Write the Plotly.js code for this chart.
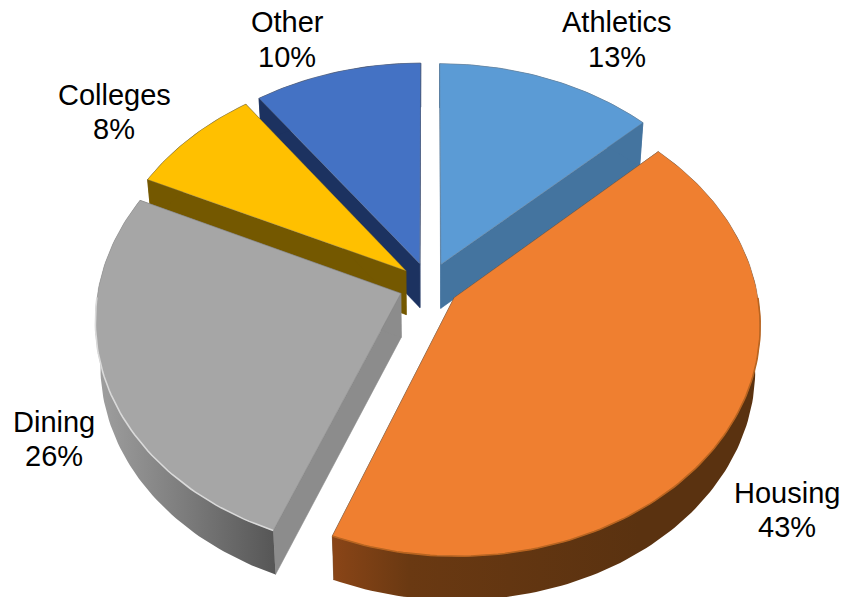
<!DOCTYPE html>
<html>
<head>
<meta charset="utf-8">
<script src="https://cdn.plot.ly/plotly-3.0.1.min.js"></script>
<style>html,body{margin:0;padding:0;background:#fff}#chart{width:842px;height:597px}</style>
</head>
<body>
<div id="chart"></div>
<script>
// Share of revenue by source, in percent, clockwise from twelve o'clock.
const categories = ['Athletics', 'Housing', 'Dining', 'Colleges', 'Other'];
const shares = [13, 43, 26, 8, 10];

const topColors = ['#5B9BD5', '#EF7F30', '#A6A6A6', '#FFC000', '#4472C4'];
const wallColors = ['#44749F', '#6A3A14', '#8C8C8C', '#745800', '#1C3260'];
const outerWallScales = [
  null,
  [[0, '#8A4517'], [0.25, '#6A3912'], [1, '#5A3210']],
  [[0, '#A0A0A0'], [0.5, '#7C7C7C'], [1, '#565656']],
  null,
  null
];
const outerWallStops = [null, 640, 275, null, null];
const rimColors = [null, '#B9641F', '#DADADA', null, null];

// Label placement, in the same pixel-sized units as the axes below.
const labelCentres = [[617, 22, 57], [787, 493, 527], [54, 422, 456], [114, 95, 129], [287, 22, 57]];

// Tilted-disc projection of the pie.
const view = { cx: 429, cy: 285, rx: 302, ry: 227, perspective: 0.11, depth: 44, taper: 0.985, pull: 0.1 };

function project(X, Y, lower) {
  const w = 1 + view.perspective * Y;
  let x = view.cx + view.rx * X / w;
  let y = view.cy - view.ry * Y / w;
  if (lower) {
    x = view.cx + (x - view.cx) * view.taper;
    y += view.depth;
  }
  return [x, y];
}

function rad(turnPct) { return turnPct / 100 * 2 * Math.PI; }

function apexPoint(mid, lower) {
  return project(view.pull * Math.sin(mid), view.pull * Math.cos(mid), lower);
}
function rimPoint(mid, a, lower) {
  return project(view.pull * Math.sin(mid) + Math.sin(a), view.pull * Math.cos(mid) + Math.cos(a), lower);
}
function arc(mid, a0, a1, lower) {
  const n = Math.max(2, Math.ceil(Math.abs(a1 - a0) / 0.02));
  const pts = [];
  for (let i = 0; i <= n; i++) pts.push(rimPoint(mid, a0 + (a1 - a0) * i / n, lower));
  return pts;
}
function poly(pts, color, extra) {
  const closed = pts.concat([pts[0]]);
  return Object.assign({
    type: 'scatter', mode: 'lines', x: closed.map(p => p[0]), y: closed.map(p => p[1]),
    fill: 'toself', fillcolor: color, line: { width: 0.6, color: color }, hoverinfo: 'skip', showlegend: false
  }, extra || {});
}

const traces = [];
const drawOrder = [0, 4, 3, 2, 1];
const starts = [];
shares.reduce((sum, s, i) => { starts[i] = sum; return sum + s; }, 0);

drawOrder.forEach(i => {
  const a0 = rad(starts[i]);
  const a1 = rad(starts[i] + shares[i]);
  const mid = (a0 + a1) / 2;

  // Side walls first, so the slice's own top hides whatever faces away.
  [a0, a1].forEach(a => {
    traces.push(poly([apexPoint(mid, false), rimPoint(mid, a, false), rimPoint(mid, a, true), apexPoint(mid, true)], wallColors[i]));
  });
  const wall = arc(mid, a0, a1, false).concat(arc(mid, a1, a0, true));
  if (outerWallScales[i]) {
    traces.push(poly(wall, wallColors[i], {
      fillgradient: {
        type: 'horizontal',
        colorscale: outerWallScales[i],
        start: Math.min(...wall.map(p => p[0])),
        stop: outerWallStops[i]
      },
      line: { width: 0 }
    }));
  } else {
    traces.push(poly(wall, wallColors[i]));
  }

  // Top face.
  traces.push(poly([apexPoint(mid, false)].concat(arc(mid, a0, a1, false)), topColors[i], {
    line: { width: 0.8, color: 'rgba(120,120,120,0.4)' }
  }));

  // Bevel highlight along the near edge.
  if (rimColors[i]) {
    const rimFrom = Math.max(a0, Math.PI * (i === 1 ? 0.5 : 1));
    const rimTo = i === 2 ? rad(starts[i] + shares[i] * 0.72) : a1;
    const rim = arc(mid, rimFrom, rimTo, false);
    traces.push({
      type: 'scatter', mode: 'lines', x: rim.map(p => p[0]), y: rim.map(p => p[1]),
      line: { width: 1.6, color: rimColors[i] }, hoverinfo: 'skip', showlegend: false
    });
  }
});

const labelFont = { family: 'Liberation Sans, Arial, sans-serif', size: 29, color: '#000' };
const annotations = [];
categories.forEach((name, i) => {
  const [x, y1, y2] = labelCentres[i];
  annotations.push({ x, y: y1, text: name, showarrow: false, xanchor: 'center', yanchor: 'middle', font: labelFont });
  annotations.push({ x, y: y2, text: shares[i] + '%', showarrow: false, xanchor: 'center', yanchor: 'middle', font: labelFont });
});

const layout = {
  width: 842, height: 597,
  margin: { l: 0, r: 0, t: 0, b: 0 },
  paper_bgcolor: '#fff', plot_bgcolor: '#fff',
  showlegend: false,
  xaxis: { range: [0, 842], visible: false, fixedrange: true },
  yaxis: { range: [597, 0], visible: false, fixedrange: true },
  annotations
};
Plotly.newPlot('chart', traces, layout, { displayModeBar: false, staticPlot: true });
</script>
</body>
</html>
